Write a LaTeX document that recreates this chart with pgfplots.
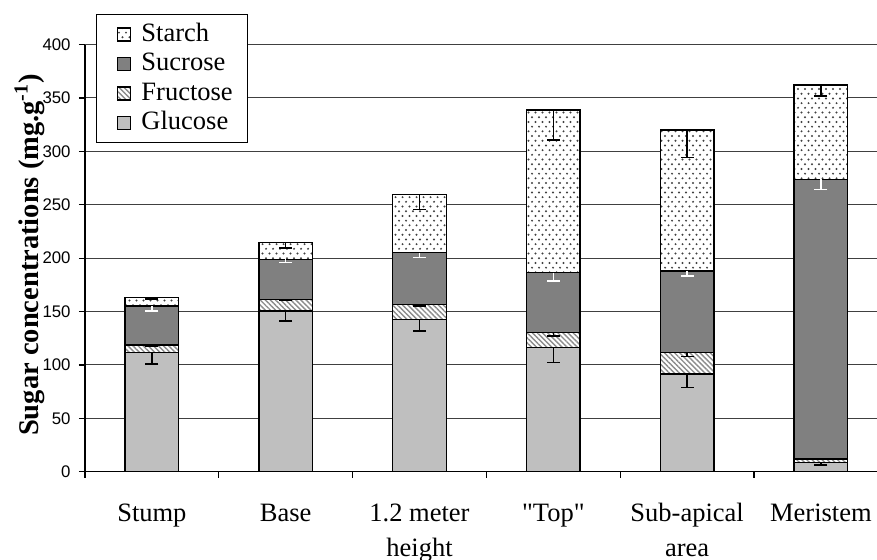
\documentclass[border=0pt]{standalone}
\usepackage{fontspec}
\setmainfont{Liberation Serif}[Ligatures=TeXOff]
\newfontfamily\ticksans{Liberation Sans}
\usepackage{pgfplots}
\usepackage{pgfplotstable}
\pgfplotsset{compat=1.18}
\usetikzlibrary{patterns,patterns.meta}

\pgfdeclarepatternformonly{xldots}{\pgfqpoint{-0.6bp}{-0.6bp}}{\pgfqpoint{2.9bp}{4.1bp}}{\pgfqpoint{3.5bp}{4.7bp}}{%
  \pgfpathcircle{\pgfqpoint{0bp}{0bp}}{0.55bp}%
  \pgfpathcircle{\pgfqpoint{1.75bp}{2.35bp}}{0.55bp}%
  \pgfusepath{fill}}

\newcommand{\catfont}{\fontsize{13.25bp}{17.5bp}\selectfont}

% segment heights
\pgfplotstableread{
x G F S St
0 111.4 7.2 36.4 8.0
1 150.5 10.9 37.5 15.5
2 142.7 13.7 48.6 54.4
3 116.1 14.1 56.2 152.3
4 91.5 19.9 76.6 132.0
5 8.8 3.1 261.9 88.2
}\seg

% segment tops and (downward) errors
\pgfplotstableread{
x Gt Ge Ft Fe St Se Tt Te
0 111.4 10.5 118.6 1.0 155.0 4.3 163.0 1.5
1 150.5 9.5 161.4 1.1 198.9 3.2 214.4 4.9
2 142.7 11.0 156.4 1.0 205.0 4.6 259.4 13.7
3 116.1 14.0 130.2 3.2 186.4 7.8 338.7 28.1
4 91.5 12.5 111.4 3.7 188.0 4.7 320.0 26.0
5 8.8 2.5 11.9 0.6 273.8 9.4 362.0 10.2
}\err

\pgfplotsset{
  base/.style={scale only axis, width=396bp, height=213.6bp,
    xmin=-0.5, xmax=5.419, ymin=0, ymax=400},
  mylegend/.style={legend image code/.code={%
    \draw[##1,line width=0.6bp] (3bp,-3.5bp) rectangle (9.5bp,3bp);
    \path (0bp,0bp);}},
  errb/.style={draw=none, mark=none, forget plot,
    error bars/.cd, y dir=minus, y explicit,
    error bar style={draw=#1, line width=0.75bp},
    error mark options={rotate=90, draw=#1, line width=0.75bp, mark size=3.25bp}},
}

\begin{document}
\begin{tikzpicture}
\begin{axis}[base,
  ybar stacked, bar width=0.4,
  axis x line*=bottom, axis y line*=left,
  axis line style={-, line width=0.6bp, black},
  ytick={0,50,...,400}, ymajorgrids,
  grid style={black!75, line width=0.5bp},
  tick align=outside, major tick length=3bp,
  tick style={black, line width=0.6bp},
  /pgf/number format/assume math mode=true,
  yticklabel style={font=\ticksans\fontsize{8.4bp}{10bp}\selectfont, inner sep=0pt, xshift=-4bp},
  xtick={-0.5,0.5,1.5,2.5,3.5,4.5},
  xticklabels={},
  extra x ticks={0,...,5},
  extra x tick labels={\strut Stump, \strut Base, {\strut 1.2 meter\\height}, {\strut "Top"}, {\strut Sub-apical\\area}, \strut Meristem},
  extra x tick style={tick style={draw=none}, grid=none},
  xticklabel style={font=\catfont, align=center, inner sep=0pt, anchor=north, yshift=-9.2bp},
  ylabel={Sugar concentrations (mg.g\textsuperscript{-1})},
  ylabel style={font=\fontsize{14.25bp}{17bp}\selectfont\bfseries,
    at={(rel axis cs:-0.0593,0.5076)}, anchor=base},
  reverse legend, legend cell align=left,
  legend style={at={(rel axis cs:0.0135,1.0713)}, anchor=north west,
    draw=black, line width=0.5bp, fill=white, font=\catfont,
    inner xsep=7.5bp, inner ysep=3.25bp, row sep=1.75bp, column sep=5bp,
    nodes={inner sep=0pt, text height=10bp, text depth=3bp, anchor=west}},
  clip=false,
]
\addplot[mylegend, draw=black, line width=0.7bp, fill=black!25] table[x=x,y=G]{\seg};
\addlegendentry{Glucose}
\addplot[mylegend, draw=black, line width=0.7bp, fill=white,
  postaction={pattern={Lines[angle=-45,distance=1.8bp,line width=0.7bp]}, pattern color=black!45}] table[x=x,y=F]{\seg};
\addlegendentry{Fructose}
\addplot[mylegend, draw=black, line width=0.7bp, fill=black!50] table[x=x,y=S]{\seg};
\addlegendentry{Sucrose}
\addplot[mylegend, draw=black, line width=0.7bp, fill=white,
  postaction={pattern=xldots, pattern color=black!75}] table[x=x,y=St]{\seg};
\addlegendentry{Starch}
\coordinate (bbll) at (rel axis cs:-0.1073,-0.2044);
\coordinate (bbur) at (rel axis cs:1.0,1.1042);
\end{axis}
\begin{axis}[base, hide axis, clip=false]
\addplot[errb=black] table[x=x,y=Gt,y error minus=Ge]{\err};
\addplot[errb=black] table[x=x,y=Ft,y error minus=Fe]{\err};
\addplot[errb=white] table[x=x,y=St,y error minus=Se]{\err};
\addplot[errb=black] table[x=x,y=Tt,y error minus=Te]{\err};
\end{axis}
\pgfresetboundingbox
\useasboundingbox (bbll) rectangle (bbur);
\end{tikzpicture}
\end{document}
